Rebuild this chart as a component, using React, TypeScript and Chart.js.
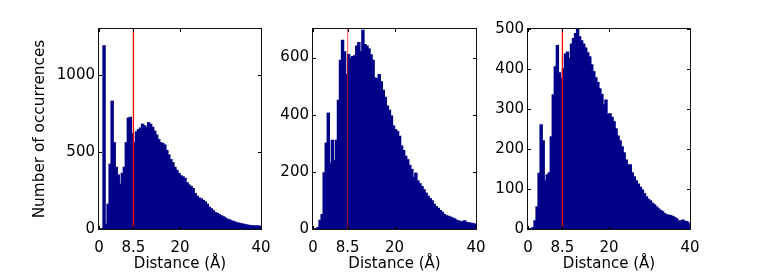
import { useEffect, useRef } from "react";
import { Chart, registerables } from "chart.js";

Chart.register(...registerables);

// ---- data -------------------------------------------------------------
const BIN_WIDTH = 0.5; // Å
const BIN_COUNT = 80;
const BIN_CENTERS: number[] = Array.from({ length: BIN_COUNT }, (_, i) => BIN_WIDTH / 2 + BIN_WIDTH * i);

const X_TICKS = [0, 8.5, 20, 40];
const CUTOFF = 8.5;

const COUNTS_A = [
  0, 0, 1190, 30, 160, 420, 830, 560, 400, 350,
  290, 360, 400, 560, 720, 725, 620, 560, 630, 645,
  655, 680, 670, 660, 690, 680, 660, 635, 610, 580,
  560, 555, 545, 510, 480, 450, 430, 400, 380, 360,
  345, 338, 328, 300, 285, 275, 262, 230, 212, 200,
  195, 185, 175, 160, 140, 130, 118, 105, 100, 92,
  85, 78, 70, 62, 58, 52, 48, 42, 38, 36,
  32, 30, 26, 24, 22, 20, 20, 18, 19, 18,
];

const COUNTS_B = [
  0, 0, 5, 30, 50, 196, 300, 405, 230, 310,
  240, 310, 450, 590, 660, 620, 540, 610, 598, 603,
  606, 640, 652, 620, 695, 645, 640, 630, 609, 590,
  528, 525, 540, 515, 485, 460, 430, 415, 395, 360,
  347, 341, 324, 290, 274, 254, 242, 222, 208, 180,
  195, 168, 158, 148, 137, 125, 114, 106, 98, 86,
  78, 72, 64, 58, 50, 46, 44, 41, 38, 35,
  30, 28, 24, 26, 28, 22, 21, 20, 18, 17,
];

const COUNTS_C = [
  0, 0, 3, 20, 55, 139, 260, 220, 120, 135,
  140, 230, 335, 405, 458, 390, 375, 400, 437, 442,
  426, 462, 476, 488, 498, 480, 470, 462, 452, 440,
  430, 410, 393, 378, 366, 350, 336, 310, 322, 286,
  288, 279, 268, 250, 232, 220, 205, 190, 172, 160,
  160, 140, 130, 120, 112, 104, 97, 88, 80, 74,
  70, 64, 60, 55, 50, 46, 43, 38, 35, 34,
  33, 31, 28, 25, 19, 20, 22, 19, 18, 14,
];

const Y_MAX = [1300, 700, 500];
const Y_TICKS_A = [0, 500, 1000];
const Y_TICKS_B = [0, 200, 400, 600];
const Y_TICKS_C = [0, 100, 200, 300, 400, 500];
const Y_TICKS = [Y_TICKS_A, Y_TICKS_B, Y_TICKS_C];
const SERIES = [COUNTS_A, COUNTS_B, COUNTS_C];

const X_TITLE = "Distance (Å)";
const Y_TITLE = "Number of occurrences";

// ---- layout / style ---------------------------------------------------
const W = 763;
const H = 273;
const PLOT_TOP = 29;
const PLOT_BOTTOM = 229;
const PANELS = [
  { left: 99, right: 261, line: "rgba(255,0,0,1)", title: true },
  { left: 313, right: 476, line: "rgba(255,0,0,0.55)", title: false },
  { left: 528, right: 690, line: "rgba(255,0,0,1)", title: false },
];
const BAR_COLOR = "#000088";
const FONT = { family: "'DejaVu Sans', sans-serif", size: 15 };
const TITLE_FONT = { family: "'DejaVu Sans', sans-serif", size: 15.3 };
const TICK_LEN = 3;

const framePlugin = {
  id: "frameAndCutoff",
  afterDatasetsDraw(chart: any, _args: any, opts: any) {
    const { ctx, chartArea: a, scales } = chart;
    const xs = scales.x;
    const ys = scales.y;
    ctx.save();
    // cutoff line
    const px = xs.getPixelForValue(CUTOFF);
    ctx.strokeStyle = opts.lineColor;
    ctx.lineWidth = 1.3;
    ctx.beginPath();
    ctx.moveTo(px, a.top);
    ctx.lineTo(px, a.bottom);
    ctx.stroke();
    // inward ticks
    ctx.strokeStyle = "#000";
    ctx.lineWidth = 1;
    ctx.beginPath();
    xs.ticks.forEach((t: any) => {
      const x = Math.round(xs.getPixelForValue(t.value)) + 0.5;
      ctx.moveTo(x, a.top);
      ctx.lineTo(x, a.top + TICK_LEN);
      ctx.moveTo(x, a.bottom);
      ctx.lineTo(x, a.bottom - TICK_LEN);
    });
    ys.ticks.forEach((t: any) => {
      const y = Math.round(ys.getPixelForValue(t.value)) + 0.5;
      ctx.moveTo(a.left, y);
      ctx.lineTo(a.left + TICK_LEN, y);
      ctx.moveTo(a.right, y);
      ctx.lineTo(a.right - TICK_LEN, y);
    });
    ctx.stroke();
    // frame
    ctx.strokeStyle = "#111";
    ctx.strokeRect(Math.round(a.left) - 0.5, Math.round(a.top) - 0.5, Math.round(a.right - a.left) + 1, Math.round(a.bottom - a.top) + 1);
    ctx.restore();
  },
};

function Panel({ index }: { index: number }) {
  const ref = useRef<HTMLCanvasElement | null>(null);
  useEffect(() => {
    const p = PANELS[index];
    const values = SERIES[index];
    const yw = p.title ? 68 : 50;
    const chart = new Chart(ref.current as HTMLCanvasElement, {
      type: "bar",
      data: {
        datasets: [
          {
            data: values.map((v, i) => ({ x: BIN_CENTERS[i], y: v })),
            backgroundColor: BAR_COLOR,
            borderWidth: 0,
            barPercentage: 1,
            categoryPercentage: 1,
            inflateAmount: 0.7,
          },
        ],
      },
      plugins: [framePlugin],
      options: {
        responsive: false,
        animation: false,
        events: [],
        layout: {
          padding: { left: p.left - yw, right: W - p.right, top: PLOT_TOP, bottom: 0 },
        },
        plugins: {
          legend: { display: false },
          tooltip: { enabled: false },
          frameAndCutoff: { lineColor: p.line },
        } as any,
        scales: {
          x: {
            type: "linear",
            min: 0,
            max: 40,
            offset: false,
            grid: { display: false, drawTicks: false },
            border: { display: false },
            afterBuildTicks: (s: any) => {
              s.ticks = X_TICKS.map((v) => ({ value: v }));
            },
            afterFit: (s: any) => {
              s.height = H - PLOT_BOTTOM;
            },
            ticks: {
              color: "#000",
              font: FONT,
              padding: 10,
              maxRotation: 0,
              autoSkip: false,
              callback: (v: any) => String(v),
            },
            title: {
              display: true,
              text: X_TITLE,
              color: "#000",
              font: FONT,
              padding: { top: 0, bottom: 0 },
            },
          },
          y: {
            min: 0,
            max: Y_MAX[index],
            grid: { display: false, drawTicks: false },
            border: { display: false },
            afterBuildTicks: (s: any) => {
              s.ticks = Y_TICKS[index].map((v) => ({ value: v }));
            },
            afterFit: (s: any) => {
              s.width = yw;
            },
            ticks: {
              color: "#000",
              font: FONT,
              padding: 4,
              autoSkip: false,
              callback: (v: any) => String(v),
            },
            title: {
              display: p.title,
              text: Y_TITLE,
              color: "#000",
              font: TITLE_FONT,
              padding: { top: 0, bottom: 0 },
            },
          },
        },
      } as any,
    });
    return () => chart.destroy();
  }, [index]);
  return (
    <canvas
      ref={ref}
      width={W}
      height={H}
      style={{ position: "absolute", left: 0, top: 0, width: W, height: H }}
    />
  );
}

export default function App() {
  return (
    <div style={{ position: "fixed", left: 0, top: 0, width: W, height: H, background: "#fff" }}>
      <Panel index={0} />
      <Panel index={1} />
      <Panel index={2} />
    </div>
  );
}
